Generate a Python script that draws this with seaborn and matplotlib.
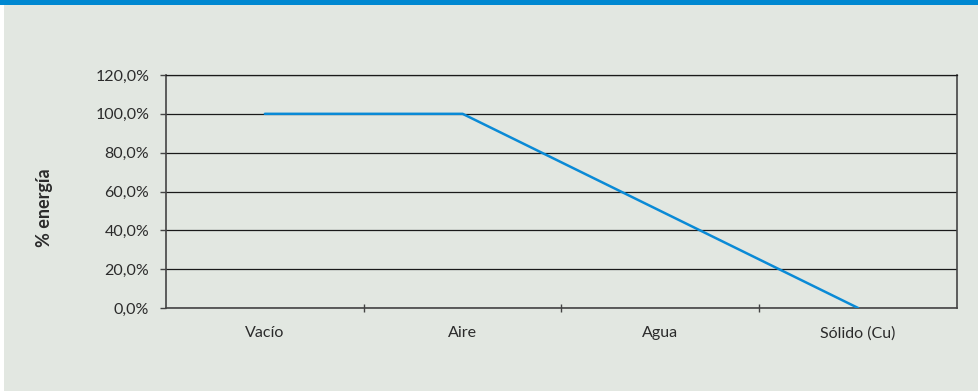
import matplotlib
matplotlib.use("Agg")
import matplotlib.pyplot as plt
import matplotlib.ticker as mticker
from matplotlib.patches import Rectangle
import seaborn as sns
import pandas as pd

categories = ["Vacío", "Aire", "Agua", "Sólido (Cu)"]
energia = [100.0, 100.0, 50.0, 0.0]
y_ticks = [0, 20, 40, 60, 80, 100, 120]
y_label = "% energía"

sns.set_theme(style="white")
plt.rcParams["font.family"] = ["Lato", "DejaVu Sans"]

bg = "#e2e7e1"
txt = "#2b2b2b"

fig = plt.figure(figsize=(9.79, 3.91), dpi=100, facecolor=bg)
ax = fig.add_axes([166/979, 1-308/391, (957-166)/979, (308-75)/391])
ax.set_facecolor(bg)

# top blue band
fig.patches.append(Rectangle((0, 1-5/391), 1, 5/391, transform=fig.transFigure,
                             facecolor="#0088d1", edgecolor="none", zorder=10))
fig.patches.append(Rectangle((0, 0), 4/979, 1-5/391, transform=fig.transFigure,
                             facecolor="white", edgecolor="none", zorder=10))

df = pd.DataFrame({"cat": categories, "val": energia})
sns.lineplot(data=df, x="cat", y="val", ax=ax, color="#0a8ad6", linewidth=1.8,
             sort=False, zorder=5)

ax.set_xlim(-0.5, len(categories) - 0.5)
ax.set_ylim(0, 120)
ax.set_yticks(y_ticks)
ax.yaxis.set_major_formatter(mticker.FuncFormatter(lambda v, p: f"{v:.1f}".replace(".", ",") + "%"))
ax.yaxis.grid(True, color="#1a1a1a", linewidth=0.9)
ax.set_axisbelow(True)

ax.set_xticks(range(len(categories)))
ax.set_xticklabels(categories)
ax.set_xticks([0.5, 1.5, 2.5], minor=True)
ax.tick_params(axis="x", which="major", length=0, pad=13, labelsize=11.5, labelcolor=txt)
ax.tick_params(axis="x", which="minor", length=6, width=1, direction="inout", color="#444444", bottom=True)
ax.tick_params(axis="y", which="major", length=4, width=1, direction="out", color="#444444",
               left=True, labelsize=11.5, labelcolor=txt, pad=8)

for s in ax.spines.values():
    s.set_color("#444444")
    s.set_linewidth(1.2)
ax.spines["top"].set_color("#1a1a1a")
ax.spines["top"].set_linewidth(0.9)

ax.set_xlabel("")
ax.set_ylabel("")
fig.text(45/979, 1-208/391, y_label, rotation=90, ha="center", va="center",
         fontsize=13, fontweight="bold", color=txt)

fig.savefig("out.png", dpi=100, facecolor=bg)
